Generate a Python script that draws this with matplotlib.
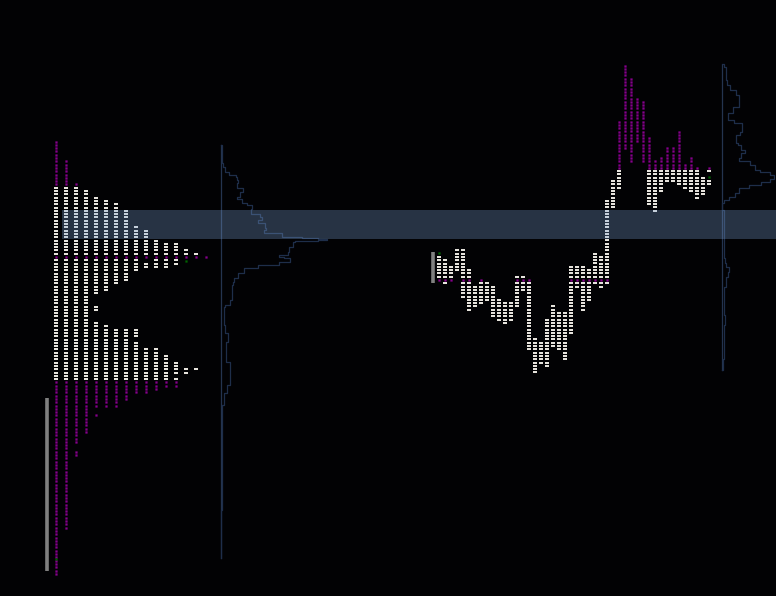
import numpy as np
import matplotlib
matplotlib.use('Agg')
import matplotlib.pyplot as plt
from matplotlib.path import Path

# --- DATA ---
# every run is (column, first level, last level), levels read off the picture

# left profile
left_white = [
    (0, 189, 253), (0, 260, 380), (1, 189, 253), (1, 260, 380), (2, 189, 253), (2, 260, 380),
    (3, 190, 253), (3, 260, 380), (4, 197, 253), (4, 260, 293), (4, 306, 310), (4, 323, 380),
    (5, 200, 253), (5, 260, 290), (5, 326, 380), (6, 203, 253), (6, 260, 283), (6, 330, 380),
    (7, 210, 253), (7, 260, 280), (7, 330, 380), (8, 227, 253), (8, 260, 270), (8, 330, 337),
    (8, 343, 380), (9, 230, 253), (9, 263, 267), (9, 350, 380), (10, 240, 253), (10, 260, 267),
    (10, 350, 380), (11, 243, 253), (11, 260, 267), (11, 356, 380), (12, 243, 253), (12, 260, 263),
    (12, 363, 373), (12, 380, 380), (13, 250, 253), (13, 370, 373), (14, 253, 253), (14, 370, 370),
]
left_purple = [
    (0, 142, 184), (1, 162, 184), (2, 183, 184), (0, 383, 573), (1, 383, 527), (2, 383, 442),
    (2, 453, 456), (3, 383, 433), (4, 383, 406), (4, 416, 416), (5, 383, 406), (6, 383, 406),
    (7, 383, 400), (8, 383, 393), (9, 383, 393), (10, 383, 390), (11, 383, 386), (12, 383, 386),
]
left_poc_columns = list(range(16))
left_poc_level = 257
left_green = [(0, 559), (13, 261)]

# middle session
mid_white = [
    (0, 257, 277), (1, 260, 277), (1, 283, 283), (2, 267, 277), (3, 250, 270), (4, 250, 277),
    (4, 283, 296), (5, 270, 277), (5, 283, 310), (6, 287, 306), (7, 283, 303), (8, 283, 300),
    (9, 287, 316), (10, 299, 320), (11, 303, 323), (12, 303, 320), (13, 277, 277), (13, 283, 306),
    (14, 277, 277), (14, 283, 290), (15, 283, 350), (16, 339, 373), (17, 343, 363), (18, 319, 367),
    (19, 306, 347), (20, 313, 350), (21, 313, 360), (22, 267, 277), (22, 283, 333), (23, 267, 277),
    (23, 283, 287), (24, 267, 277), (24, 283, 310), (25, 270, 277), (25, 283, 300), (26, 253, 277),
    (26, 283, 283), (27, 257, 277), (27, 283, 287), (28, 202, 277), (28, 283, 283), (29, 180, 207),
    (30, 172, 187), (35, 172, 203), (36, 172, 210), (37, 172, 190), (38, 172, 180), (39, 172, 180),
    (40, 172, 183), (41, 172, 187), (42, 172, 190), (43, 172, 197), (44, 177, 193), (45, 172, 172),
    (45, 180, 183),
]
mid_purple = [
    (30, 120, 168), (31, 64, 147), (32, 80, 162), (33, 97, 140), (34, 103, 162), (35, 139, 168),
    (36, 160, 168), (37, 157, 168), (38, 147, 168), (39, 147, 168), (40, 132, 168), (41, 163, 168),
    (42, 157, 168), (43, 168, 168), (45, 168, 168),
]
mid_poc_columns = [0, 1, 2, 4, 5, 7, 13, 14, 15, 22, 23, 24, 25, 26, 27, 28]
mid_poc_level = 280
mid_green = [(0, 253), (45, 177)]

# volume profiles
left_vol_level = [145, 150, 155, 163, 167, 172, 175, 177, 180, 181, 183, 188, 192, 197, 199, 203, 205, 209,
                  213, 214, 217, 220, 223, 228, 230, 233, 237, 238, 239, 240, 241, 242, 244, 247, 252, 255,
                  257, 258, 262, 265, 268, 273, 278, 282, 285, 292, 300, 305, 307, 318, 325, 333, 342, 352,
                  362, 373, 385, 393, 405, 413, 427, 440, 460, 470, 490, 510, 530, 558]
left_vol_size = [221, 222, 222, 221, 224, 226, 232, 239, 235, 240, 235, 239, 246, 234, 240, 243, 250, 253,
                 248, 253, 267, 257, 258, 272, 260, 268, 295, 308, 327, 327, 308, 282, 303, 282, 295, 280,
                 277, 290, 290, 268, 247, 240, 235, 232, 234, 230, 233, 227, 222, 225, 223, 227, 228, 224,
                 228, 231, 228, 225, 222, 221, 223, 221, 222, 221, 222, 221, 221, 221]
right_vol_level = [64, 67, 73, 80, 85, 90, 95, 107, 113, 120, 123, 132, 135, 143, 145, 150, 153, 158, 161,
                   165, 170, 172, 175, 179, 182, 185, 188, 193, 197, 200, 203, 210, 258, 263, 267, 272, 277,
                   287, 305, 315, 325, 340, 359, 370]
right_vol_size = [722, 725, 726, 726, 728, 731, 740, 737, 728, 728, 740, 743, 737, 735, 740, 742, 747, 735,
                  743, 757, 753, 767, 773, 775, 765, 757, 740, 737, 732, 725, 722, 722, 725, 724, 728, 729,
                  727, 725, 722, 725, 724, 724, 723, 722]

# --- STYLE ---
row_h = 3.3
white = '#e6e3dc'
purple = '#86008c'
green = '#006400'
line_col = '#1e2e4a'
base_col = '#24344f'
white_tick = Path([(-1.5, -1), (1.5, -1), (1.5, 1), (-1.5, 1), (-1.5, -1)])


def expand(runs, x0, dx, anchor):
    xs, ys = [], []
    for col, top, bottom in runs:
        first = anchor + round((top - anchor) / row_h) * row_h
        last = anchor + round((bottom - anchor) / row_h) * row_h
        levels = np.arange(first, last + 0.1, row_h)
        xs.extend([x0 + dx * col] * len(levels))
        ys.extend(levels)
    return xs, ys


def draw_white(ax, xs, ys):
    ax.scatter(xs, ys, marker=white_tick, s=4.7, color=white, linewidths=0, zorder=2)


def draw_square(ax, xs, ys, color):
    pts = ax.scatter(xs, ys, marker='s', s=2.6, color=color, linewidths=0, zorder=2)
    pts.set_snap(False)


fig = plt.figure(figsize=(7.76, 5.96), dpi=100, facecolor='#020204')
ax = fig.add_axes([0, 0, 1, 1])
ax.set_facecolor('#020204')
ax.set_xlim(0, 776)
ax.set_ylim(596, 0)
ax.axis('off')

# left profile
left_x, left_dx = 55.7, 10.03
draw_white(ax, *expand(left_white, left_x, left_dx, left_poc_level))
draw_square(ax, *expand(left_purple, left_x, left_dx, left_poc_level), purple)
draw_square(ax, [left_x + left_dx * c for c in left_poc_columns], [left_poc_level] * len(left_poc_columns), purple)
draw_square(ax, [left_x + left_dx * c for c, _ in left_green], [v for _, v in left_green], green)

# middle session
mid_x, mid_dx = 438.7, 6.01
draw_white(ax, *expand(mid_white, mid_x, mid_dx, mid_poc_level))
draw_square(ax, *expand(mid_purple, mid_x, mid_dx, mid_poc_level), purple)
draw_square(ax, [mid_x + mid_dx * c for c in mid_poc_columns], [mid_poc_level] * len(mid_poc_columns), purple)
draw_square(ax, [mid_x + mid_dx * c for c, _ in mid_green], [v for _, v in mid_green], green)

# initial balance bars
ax.plot([47, 47], [398, 571], color='#808080', lw=2.6, solid_capstyle='butt', zorder=3)
ax.plot([432.5, 432.5], [252, 283], color='#808080', lw=2.6, solid_capstyle='butt', zorder=3)

# volume profiles
ax.plot([220.5, 220.5], [145, 558], color=base_col, lw=0.9, zorder=1)
ax.step(left_vol_size, left_vol_level, where='mid', color=line_col, lw=0.9, zorder=1)
ax.plot([721.8, 721.8], [65, 370], color=base_col, lw=0.9, zorder=1)
ax.step(right_vol_size, right_vol_level, where='mid', color=line_col, lw=0.9, zorder=1)

# value area band
ax.axhspan(210, 238.5, xmin=62 / 776, xmax=1, facecolor='#7fa7d9', alpha=0.3, lw=0, zorder=4)

fig.savefig('out.png', dpi=100, facecolor=fig.get_facecolor())
